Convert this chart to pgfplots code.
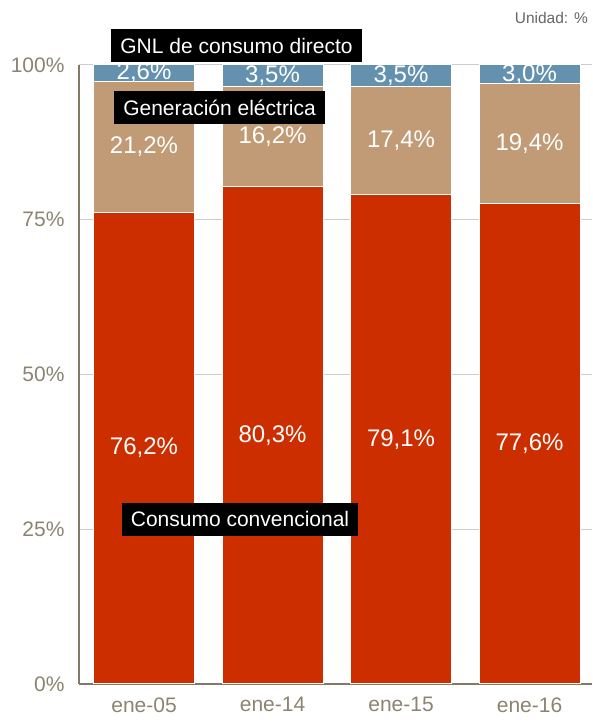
\documentclass[border=0pt]{standalone}
\usepackage{pgfplots}
\pgfplotsset{compat=1.18}
\usepackage{fontspec}
\setmainfont{Liberation Sans}
\definecolor{cred}{RGB}{204,46,0}
\definecolor{ctan}{RGB}{192,155,117}
\definecolor{cblue}{RGB}{100,146,174}
\definecolor{ctext}{RGB}{138,132,112}
\definecolor{caxis}{RGB}{130,122,102}
\definecolor{cgrid}{RGB}{205,205,205}
\begin{document}
\begin{tikzpicture}[x=1pt,y=1pt]
\path[use as bounding box] (-79,-38) rectangle (513,684);
\begin{axis}[
  at={(0,0)}, anchor=south west,
  scale only axis, width=513pt, height=619pt,
  ybar stacked, bar width=101pt,
  xmin=-0.506, xmax=3.486, ymin=0, ymax=100,
  xtick={0,1,2,3}, xticklabels={ene-05,ene-14,ene-15,ene-16},
  ytick={0,25,50,75,100}, yticklabels={0\%,25\%,50\%,75\%,100\%},
  axis x line*=bottom, axis y line*=left,
  axis line style={caxis, line width=1.6pt},
  ymajorgrids, grid style={cgrid, line width=1pt},
  major tick length=0pt,
  tick label style={ctext, font=\fontsize{21}{25}\selectfont},
  yticklabel style={xshift=-11pt},
  xticklabel style={yshift=-10pt},
  clip=false,
]
\addplot[fill=cred, draw=white, line width=1pt] coordinates {(0,76.2) (1,80.3) (2,79.1) (3,77.6)};
\addplot[fill=ctan, draw=white, line width=1pt] coordinates {(0,21.2) (1,16.2) (2,17.4) (3,19.4)};
\addplot[fill=cblue, draw=white, line width=1pt] coordinates {(0,2.6) (1,3.5) (2,3.5) (3,3.0)};
\end{axis}
\begin{axis}[
  at={(0,0)}, anchor=south west,
  scale only axis, width=513pt, height=619pt,
  xmin=-0.506, xmax=3.486, ymin=0, ymax=100,
  hide axis, clip=false,
]
\addplot[draw=none, mark=none, nodes near coords, point meta=explicit symbolic,
  every node near coord/.append style={anchor=center, text=white, font=\fontsize{24}{28}\selectfont}]
  coordinates {(0,38.1) [76,2\%] (1,40.15) [80,3\%] (2,39.55) [79,1\%] (3,38.8) [77,6\%]};
\addplot[draw=none, mark=none, nodes near coords, point meta=explicit symbolic,
  every node near coord/.append style={anchor=center, text=white, font=\fontsize{24}{28}\selectfont}]
  coordinates {(0,86.8) [21,2\%] (1,88.4) [16,2\%] (2,87.8) [17,4\%] (3,87.3) [19,4\%]};
\addplot[draw=none, mark=none, nodes near coords, point meta=explicit symbolic,
  every node near coord/.append style={anchor=center, text=white, font=\fontsize{24}{28}\selectfont}]
  coordinates {(0,98.7) [2,6\%] (1,98.25) [3,5\%] (2,98.25) [3,5\%] (3,98.5) [3,0\%]};
\node[fill=black, text=white, font=\fontsize{21}{25}\selectfont, inner xsep=9pt, minimum height=33pt] at (axis cs:0.72,103.1) {GNL de consumo directo};
\node[fill=black, text=white, font=\fontsize{21}{25}\selectfont, inner xsep=9pt, minimum height=33pt] at (axis cs:0.588,93.1) {Generación eléctrica};
\node[fill=black, text=white, font=\fontsize{21}{25}\selectfont, inner xsep=9pt, minimum height=33pt] at (axis cs:0.747,26.65) {Consumo convencional};
\node[anchor=east, text={rgb,255:red,102;green,102;blue,102}, font=\fontsize{15.5}{18}\selectfont, inner sep=0pt] at (axis cs:3.455,107.6) {Unidad: \%};
\end{axis}
\end{tikzpicture}
\end{document}
